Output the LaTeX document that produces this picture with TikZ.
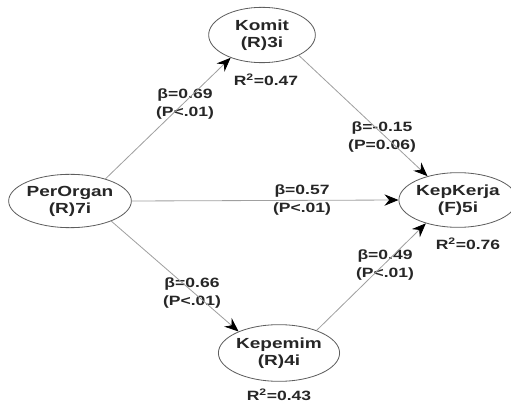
\documentclass[tikz,border=0pt]{standalone}
\usepackage{fontspec}
\setmainfont{Liberation Sans}[FakeStretch=1.3]
\usepackage{xcolor}
\usepackage{tikz}
\usetikzlibrary{positioning, arrows.meta, shapes.geometric}
\definecolor{pathgray}{HTML}{A0A0A0}
\definecolor{rimgray}{HTML}{5E5E5E}
\definecolor{inkdark}{HTML}{262626}

\begin{document}
\begin{tikzpicture}[x=0.03cm, y=-0.03cm,
    latent/.style={ellipse, draw=rimgray, line width=0.7pt, inner sep=0pt, align=center,
      text=inkdark, font=\fontsize{12.5}{14.5}\selectfont\bfseries},
    est/.style={align=center, inner sep=0pt, text=inkdark, font=\fontsize{11.5}{15.5}\selectfont\bfseries},
    path/.style={-{Stealth[length=4.2mm, width=3.4mm, inset=1.4mm, black]}, pathgray, line width=0.7pt}]
  \useasboundingbox (0,0) rectangle (511,404);
  % constructs
  \node[latent, minimum width=3.45cm, minimum height=1.6cm] (per) at (70,201) {PerOrgan\\(R)7i};
  \node[latent, minimum width=3.2cm, minimum height=1.66cm] (kom) at (262,35) {Komit\\(R)3i};
  \node[latent, minimum width=3.45cm, minimum height=1.7cm] (pem) at (279,353) {Kepemim\\(R)4i};
  \node[latent, minimum width=3.2cm, minimum height=1.64cm] (kep) at (458,200) {KepKerja\\(F)5i};
  % estimates
  \node[est] (r2kom) at (266,80) {R\textsuperscript{2}=0.47};
  \node[est] (r2kep) at (468,244) {R\textsuperscript{2}=0.76};
  \node[est] (r2pem) at (279,395) {R\textsuperscript{2}=0.43};
  \node[est] (bkom) at (185,104) {β=0.69\\(P<.01)};
  \node[est] (bkk) at (382,137) {β=-0.15\\(P=0.06)};
  \node[est] (bper) at (302,200) {β=0.57\\(P<.01)};
  \node[est] (bpk) at (385,265) {β=0.49\\(P<.01)};
  \node[est] (bpem) at (192,293) {β=0.66\\(P<.01)};
  % paths
  \draw[path] (per.32) -- (kom.216);
  \draw[path] (kom.331) -- (kep.142);
  \draw[path] (per.east) -- (kep.west);
  \draw[path] (per.334) -- (pem.152);
  \draw[path] (pem.31) -- (kep.216);
\end{tikzpicture}
\end{document}
